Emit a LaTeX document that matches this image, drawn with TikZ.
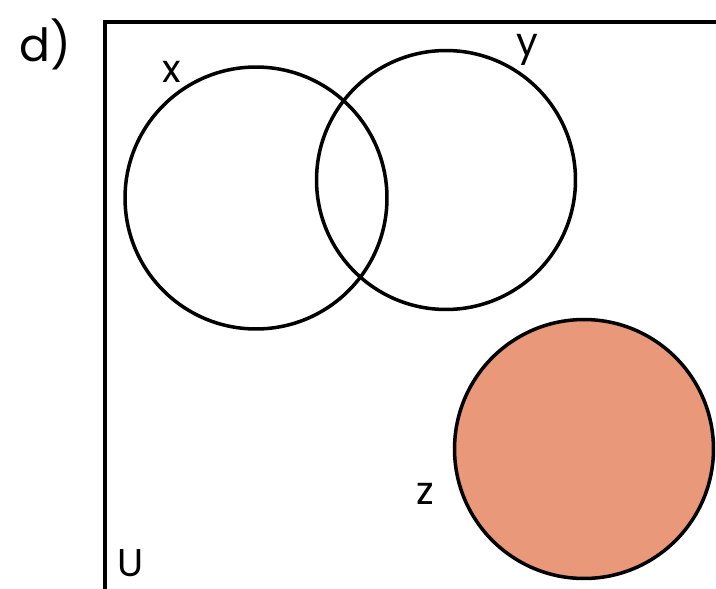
\documentclass[tikz,border=0pt]{standalone}
\usepackage{fontspec}
\setmainfont{Poppins}
\usepackage{tikz}
\definecolor{setfill}{RGB}{234,152,122}
\tikzset{
  setcirc/.style = {circle, draw=black, line width=2pt, inner sep=0pt},
  setlabel/.style = {font=\fontsize{22}{24}\selectfont, inner sep=0pt},
}

\begin{document}
\begin{tikzpicture}[x=0.02cm, y=-0.02cm]
  \useasboundingbox (0,0) rectangle (716,588);
  \clip (0,0) rectangle (716,588);
  \fill[white] (0,0) rectangle (716,588);

  % universe
  \draw[line width=2.2pt] (105,640) -- (105,22) -- (760,22);

  % the three sets
  \node[setcirc, minimum size=5.24cm] (X) at (256,198) {};
  \node[setcirc, minimum size=5.18cm] (Y) at (446,180) {};
  \node[setcirc, fill=setfill, minimum size=5.18cm] (Z) at (584,449) {};

  % labels
  \node[setlabel, font=\fontsize{26}{28}\selectfont] (part) at (45,44) {d)};
  \node[setlabel] (xl) at (172,72) {x};
  \node[setlabel] (yl) at (527,50) {y};
  \node[setlabel] (zl) at (425,494) {z};
  \node[setlabel] (ul) at (131,563) {U};
\end{tikzpicture}
\end{document}
